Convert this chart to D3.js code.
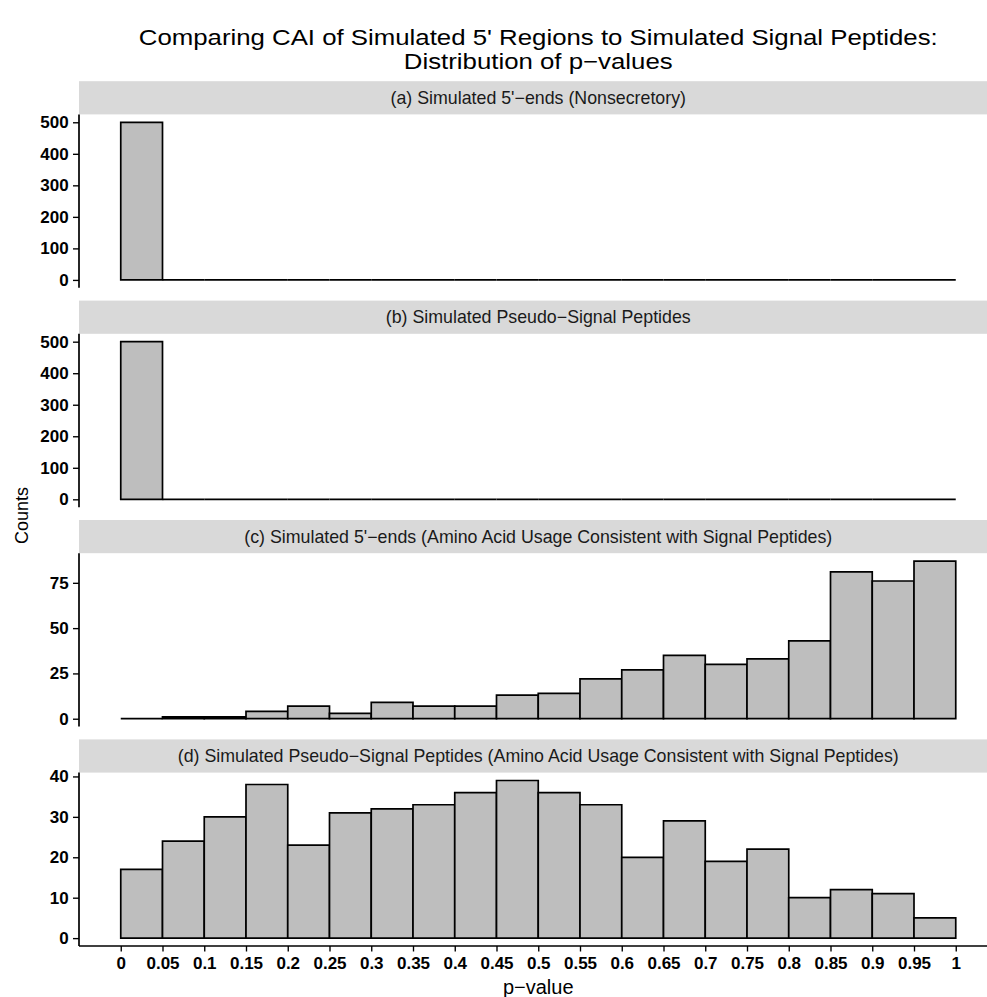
<!DOCTYPE html>
<html>
<head>
<meta charset="utf-8">
<script src="https://cdn.jsdelivr.net/npm/d3@7"></script>
<style>
  html, body { margin: 0; padding: 0; background: #fff; }
  svg { display: block; font-family: "Liberation Sans", Arial, Helvetica, sans-serif; }
</style>
</head>
<body>
<svg id="chart" width="987" height="997"></svg>
<script>
// p-value bin edges (tick labels along the shared x axis)
const xTickLabels = ["0","0.05","0.1","0.15","0.2","0.25","0.3","0.35","0.4","0.45","0.5",
                     "0.55","0.6","0.65","0.7","0.75","0.8","0.85","0.9","0.95","1"];

// Facet strip titles
const panelTitles = [
  "(a) Simulated 5'\u2212ends (Nonsecretory)",
  "(b) Simulated Pseudo\u2212Signal Peptides",
  "(c) Simulated 5'\u2212ends (Amino Acid Usage Consistent with Signal Peptides)",
  "(d) Simulated Pseudo\u2212Signal Peptides (Amino Acid Usage Consistent with Signal Peptides)"
];

// Histogram counts per 0.05-wide bin
const countsA = [500,0,0,0,0,0,0,0,0,0,0,0,0,0,0,0,0,0,0,0];
const countsB = [500,0,0,0,0,0,0,0,0,0,0,0,0,0,0,0,0,0,0,0];
const countsC = [0,1,1,4,7,3,9,7,7,13,14,22,27,35,30,33,43,81,76,87];
const countsD = [17,24,30,38,23,31,32,33,36,39,36,33,20,29,19,22,10,12,11,5];

// y tick values per panel
const yTicksA = [0,100,200,300,400,500];
const yTicksB = [0,100,200,300,400,500];
const yTicksC = [0,25,50,75];
const yTicksD = [0,10,20,30,40];

const panels = [
  { title: panelTitles[0], counts: countsA, ticks: yTicksA },
  { title: panelTitles[1], counts: countsB, ticks: yTicksB },
  { title: panelTitles[2], counts: countsC, ticks: yTicksC },
  { title: panelTitles[3], counts: countsD, ticks: yTicksD }
];

const svg = d3.select("#chart");
const edges = xTickLabels.map(Number);

// layout
const plotLeft = 79, plotRight = 997.5;
const firstPanelTop = 114.4, panelStep = 219.4, panelH = 173.4, stripH = 33.2;
const lineW = 1.7;
const midX = (plotLeft + plotRight) / 2;

const x = d3.scaleLinear().domain([-0.05, 1.05]).range([plotLeft, plotRight]);

// Two-line title, set in a slightly widened face
const titleLines = ["Comparing CAI of Simulated 5' Regions to Simulated Signal Peptides:",
                    "Distribution of p\u2212values"];
titleLines.forEach((t, k) => {
  svg.append("text")
    .attr("transform", `translate(${midX},${45 + k * 24}) scale(1.2,1)`)
    .attr("text-anchor", "middle").attr("font-size", 21.5).attr("fill", "#000")
    .text(t);
});

panels.forEach((p, i) => {
  const top = firstPanelTop + i * panelStep;
  const bottom = top + panelH;
  const maxC = d3.max(p.counts);
  const y = d3.scaleLinear().domain([-0.05 * maxC, 1.05 * maxC]).range([bottom, top]);

  // strip
  svg.append("rect")
    .attr("x", plotLeft).attr("y", top - stripH)
    .attr("width", plotRight - plotLeft).attr("height", stripH)
    .attr("fill", "#d9d9d9");
  svg.append("text")
    .attr("x", midX).attr("y", top - stripH / 2 + 6.2)
    .attr("text-anchor", "middle").attr("font-size", 17.8).attr("fill", "#1a1a1a")
    .text(p.title);

  // bars drawn as outlined paths so that empty bins still show their edge
  const bins = p.counts.map((c, j) => ({ x0: edges[j], x1: edges[j + 1], c }));
  svg.append("g").selectAll("path").data(bins).join("path")
    .attr("d", d => {
      const pth = d3.path();
      pth.moveTo(x(d.x0), y(0));
      pth.lineTo(x(d.x0), y(d.c));
      pth.lineTo(x(d.x1), y(d.c));
      pth.lineTo(x(d.x1), y(0));
      pth.closePath();
      return pth.toString();
    })
    .attr("fill", "#bebebe").attr("stroke", "#000").attr("stroke-width", lineW)
    .attr("stroke-linejoin", "miter");

  // y axis
  const yAxis = d3.axisLeft(y).tickValues(p.ticks).tickSize(6).tickPadding(4.3).tickFormat(d3.format("d"));
  const gy = svg.append("g").attr("transform", `translate(${plotLeft},0)`).call(yAxis);
  gy.select(".domain").remove();
  gy.append("line").attr("x1", 0).attr("x2", 0).attr("y1", top).attr("y2", bottom)
    .attr("stroke", "#000").attr("stroke-width", lineW);
  gy.selectAll(".tick line").attr("stroke", "#000").attr("stroke-width", lineW * 0.8);
  gy.selectAll(".tick text").attr("font-size", 17).attr("font-weight", "bold")
    .attr("fill", "#000").attr("font-family", "Liberation Sans, Arial, sans-serif");

  // x axis only under the last panel
  if (i === panels.length - 1) {
    const xAxis = d3.axisBottom(x).tickValues(edges).tickSize(5.5).tickPadding(5)
      .tickFormat((d, k) => xTickLabels[k]);
    const gx = svg.append("g").attr("transform", `translate(0,${bottom})`).call(xAxis);
    gx.select(".domain").remove();
    gx.append("line").attr("x1", plotLeft).attr("x2", plotRight).attr("y1", 0).attr("y2", 0)
      .attr("stroke", "#000").attr("stroke-width", lineW);
    gx.selectAll(".tick line").attr("stroke", "#000").attr("stroke-width", lineW * 0.8);
    gx.selectAll(".tick text").attr("font-size", 17).attr("font-weight", "bold")
      .attr("fill", "#000").attr("font-family", "Liberation Sans, Arial, sans-serif");
  }
});

// axis titles
svg.append("text")
  .attr("x", midX).attr("y", 993.5)
  .attr("text-anchor", "middle").attr("font-size", 20).attr("fill", "#000")
  .text("p\u2212value");
svg.append("text")
  .attr("transform", `translate(28.3,${(firstPanelTop - stripH + firstPanelTop + 3 * panelStep + panelH) / 2 + 2}) rotate(-90)`)
  .attr("text-anchor", "middle").attr("font-size", 18).attr("fill", "#000")
  .text("Counts");
</script>
</body>
</html>
